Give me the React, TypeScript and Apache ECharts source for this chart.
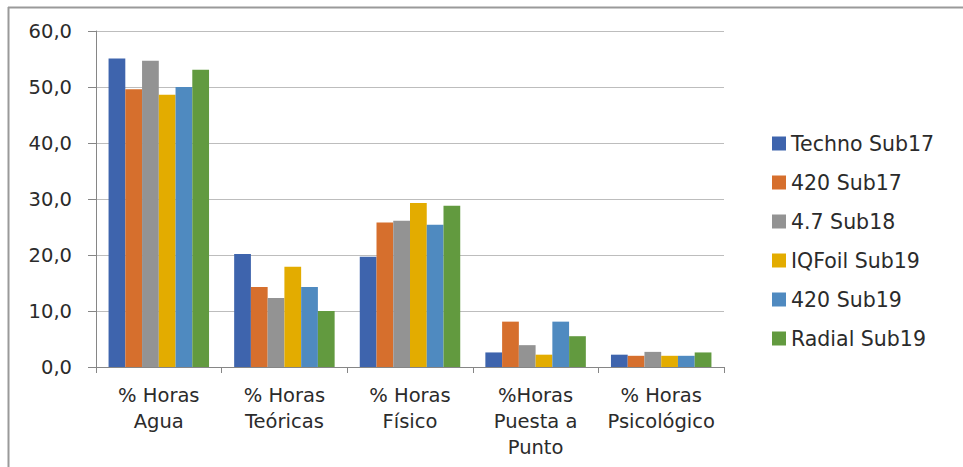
import React, { useEffect, useRef } from "react";
import * as echarts from "echarts";

const categories = [
  "% Horas\nAgua",
  "% Horas\nTeóricas",
  "% Horas\nFísico",
  "%Horas\nPuesta a\nPunto",
  "% Horas\nPsicológico",
];

const seriesNames = [
  "Techno Sub17",
  "420 Sub17",
  "4.7 Sub18",
  "IQFoil Sub19",
  "420 Sub19",
  "Radial Sub19",
];

const technoSub17 = [55.1, 20.2, 19.7, 2.6, 2.2];
const sub17_420 = [49.6, 14.3, 25.8, 8.1, 2.0];
const sub18_47 = [54.7, 12.3, 26.1, 3.9, 2.7];
const iqfoilSub19 = [48.6, 17.9, 29.3, 2.2, 2.0];
const sub19_420 = [50.0, 14.3, 25.4, 8.1, 2.0];
const radialSub19 = [53.1, 10.0, 28.8, 5.5, 2.6];

const seriesValues = [technoSub17, sub17_420, sub18_47, iqfoilSub19, sub19_420, radialSub19];
const colors = ["#3E64AD", "#D66F2D", "#939393", "#E3AC00", "#4F8AC0", "#629A3F"];

const yMin = 0;
const yMax = 60;
const yInterval = 10;

export default function App() {
  const ref = useRef<HTMLDivElement>(null);
  useEffect(() => {
    if (!ref.current) return;
    const chart = echarts.init(ref.current, null, { renderer: "svg" });
    const font = "DejaVu Sans";
    chart.setOption({
      animation: false,
      backgroundColor: "#ffffff",
      grid: { left: 96, right: 239, top: 31, bottom: 100, containLabel: false },
      legend: {
        orient: "vertical",
        left: 767,
        top: 128,
        itemWidth: 14,
        itemHeight: 14,
        itemGap: 18,
        itemTextGap: 8,
        icon: "rect",
        data: seriesNames,
        textStyle: { fontFamily: font, fontSize: 20.5, color: "#2b2b2b", lineHeight: 16 },
      },
      xAxis: {
        type: "category",
        data: categories,
        axisLine: { show: true, lineStyle: { color: "#868686", width: 1 } },
        axisTick: { show: true, length: 6, alignWithLabel: false, lineStyle: { color: "#868686" } },
        axisLabel: {
          fontFamily: font,
          fontSize: 19.5,
          color: "#2b2b2b",
          lineHeight: 26,
          margin: 15,
          interval: 0,
        },
      },
      yAxis: {
        type: "value",
        min: yMin,
        max: yMax,
        interval: yInterval,
        axisLine: { show: true, lineStyle: { color: "#868686", width: 1 } },
        axisTick: { show: true, length: 8, lineStyle: { color: "#868686" } },
        splitLine: { show: true, lineStyle: { color: "#BDBDBD", width: 1 } },
        axisLabel: {
          fontFamily: font,
          fontSize: 19.5,
          color: "#2b2b2b",
          margin: 24,
          formatter: (v: number) => v.toFixed(1).replace(".", ","),
        },
      },
      series: seriesNames.map((name, i) => ({
        name,
        type: "bar",
        data: seriesValues[i],
        barGap: "0%",
        barCategoryGap: "20%",
        itemStyle: { color: colors[i] },
      })),
      graphic: [
        {
          type: "line",
          shape: { x1: 8, y1: 7.5, x2: 963, y2: 7.5 },
          style: { stroke: "#9a9a9a", lineWidth: 2 },
          silent: true,
        },
        {
          type: "line",
          shape: { x1: 8.5, y1: 7, x2: 8.5, y2: 467 },
          style: { stroke: "#9a9a9a", lineWidth: 2 },
          silent: true,
        },
      ],
    });
    return () => chart.dispose();
  }, []);
  return (
    <div
      ref={ref}
      style={{ position: "fixed", left: 0, top: 0, width: 963, height: 467 }}
    />
  );
}
